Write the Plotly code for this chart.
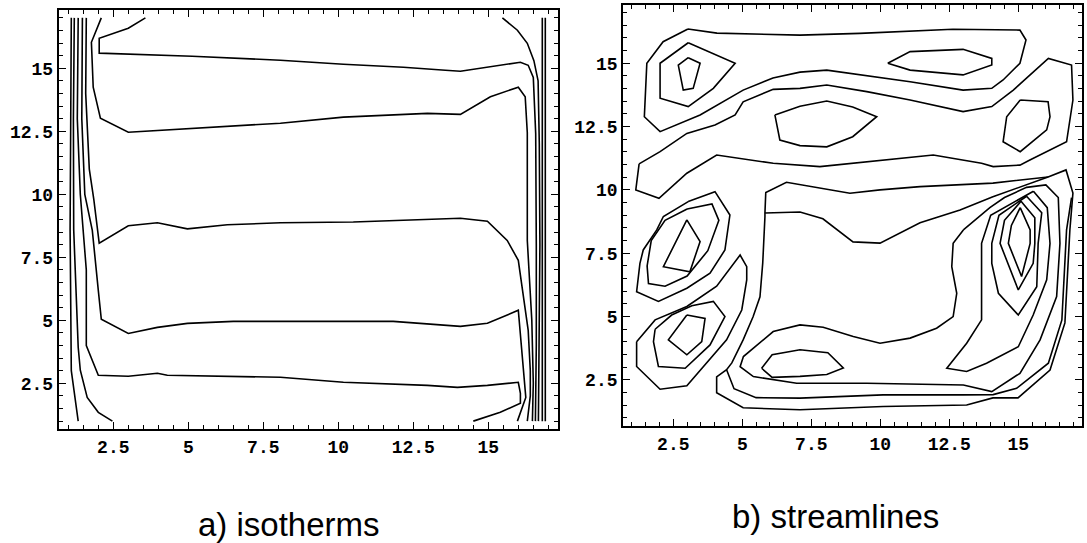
import plotly.graph_objects as go

# ---------------- a) isotherms : contour polylines (x, y in grid units) ----------------
iso_1_x = [1.10, 1.07, 1.06, 1.10, 1.33]
iso_1_y = [17, 13, 8.6, 3.0, 1]
iso_2_x = [1.20, 1.17, 1.18, 1.33, 1.40, 1.63, 2.0, 2.47]
iso_2_y = [17, 13, 8.6, 3.93, 3.02, 1.94, 1.35, 1]
iso_3_x = [1.33, 1.30, 1.40, 1.60, 1.60, 2.0, 3.0, 3.97, 4.3, 8.07, 10.17, 12.97, 13.97, 14.97, 16.0, 16.07, 16.07, 15.4, 14.5]
iso_3_y = [17, 13, 10, 7.0, 4.0, 2.82, 2.78, 2.9, 2.82, 2.74, 2.54, 2.42, 2.34, 2.42, 2.54, 2.1, 1.71, 1.35, 1]
iso_4_x = [1.47, 1.45, 1.55, 1.80, 2.0, 2.1, 3.0, 3.97, 4.97, 6.5, 8.07, 10.73, 11.83, 14.07, 14.97, 16.0, 16.1, 16.2, 16.25, 15.97]
iso_4_y = [17, 13, 10, 8.57, 6.19, 5.04, 4.48, 4.72, 4.88, 4.96, 4.96, 4.96, 4.96, 4.76, 4.88, 5.4, 4.0, 2.5, 1.94, 1]
iso_5_x = [1.60, 1.58, 1.70, 1.85, 2.03, 3.0, 3.97, 4.97, 6.3, 8.07, 10.5, 13.5, 14.07, 14.97, 15.63, 16.0, 16.33, 16.4, 16.4, 16.3]
iso_5_y = [17, 14, 11, 9.8, 8.06, 8.75, 8.87, 8.63, 8.79, 8.87, 8.9, 9.05, 9.05, 8.93, 8.17, 7.38, 4.6, 3.0, 2.0, 1]
iso_6_x = [2.1, 1.77, 1.83, 2.07, 3.0, 8.07, 10.17, 12.97, 14.07, 15.07, 16.0, 16.23, 16.3, 16.3, 16.45, 16.5, 16.47]
iso_6_y = [17, 16.03, 14.25, 13.02, 12.46, 12.82, 13.06, 13.21, 13.17, 13.87, 14.25, 13.87, 12.44, 8.17, 5.0, 2.5, 1]
iso_7_x = [3.57, 3.0, 2.03, 2.03, 5.13, 8.07, 10.17, 12.17, 13.57, 14.07, 16.07, 16.33, 16.5, 16.58, 16.6, 16.6, 16.57]
iso_7_y = [17, 16.59, 16.19, 15.6, 15.48, 15.32, 15.16, 15.04, 14.92, 14.88, 15.24, 15.12, 14.64, 12.4, 8.0, 4.0, 1]
iso_8_x = [15.47, 15.97, 16.3, 16.52, 16.66, 16.7, 16.72, 16.7, 16.67]
iso_8_y = [17, 16.51, 15.99, 15.3, 14.5, 12, 8, 4, 1]
iso_9_x = [16.8, 16.79, 16.8, 16.8]
iso_9_y = [17, 12, 5, 1]
iso_10_x = [16.9, 16.9, 16.9]
iso_10_y = [17, 9, 1]

# ---------------- b) streamlines : contour polylines ----------------
sl_top_x = [3.03, 4.08, 7.09, 9.26, 12.63, 15.06, 15.28, 15.06, 14.45, 14.04, 13.0, 11.08, 8.06, 7.09, 6.11, 5.03, 3.47, 2.02, 1.45, 1.54, 2.13, 3.03]
sl_top_y = [16.35, 16.19, 16.11, 16.18, 16.34, 16.31, 15.92, 15.0, 14.34, 14.01, 13.94, 14.27, 14.73, 14.65, 14.42, 13.94, 12.96, 12.3, 12.89, 15.0, 15.85, 16.35]
sl_tl2_x = [3.04, 4.74, 3.95, 3.04, 2.02, 2.02, 3.04]
sl_tl2_y = [15.81, 15.0, 14.01, 13.29, 13.62, 15.0, 15.81]
sl_tl3_x = [3.04, 3.47, 3.22, 2.86, 2.68, 3.04]
sl_tl3_y = [15.22, 15.0, 14.01, 13.94, 14.93, 15.22]
sl_tr_x = [10.27, 11.08, 13.0, 14.04, 14.04, 13.0, 11.08, 10.27]
sl_tr_y = [15.0, 15.46, 15.55, 15.19, 14.93, 14.54, 14.73, 15.0]
sl_mid_x = [6.18, 7.09, 8.06, 9.0, 9.87, 9.0, 8.06, 7.09, 6.36, 6.18]
sl_mid_y = [12.96, 13.3, 13.51, 13.27, 12.89, 12.1, 11.7, 11.75, 11.97, 12.96]
sl_rm_x = [15.07, 16.08, 16.15, 16.03, 15.07, 14.45, 14.58, 15.07]
sl_rm_y = [13.55, 13.48, 12.89, 12.37, 11.51, 11.9, 12.89, 13.55]
sl_band_x = [1.26, 2.02, 2.99, 4.01, 4.74, 5.03, 6.12, 7.09, 8.06, 9.51, 11.08, 13.0, 14.04, 14.82, 16.09, 16.93, 16.98, 16.75, 15.42, 15.06, 14.09, 13.67, 11.92, 8.9, 7.81, 6.12, 4.07, 2.99, 1.98, 1.14, 1.26]
sl_band_y = [11.03, 11.51, 12.23, 12.56, 12.96, 13.48, 13.97, 14.01, 14.14, 13.88, 13.55, 13.09, 13.29, 13.94, 15.19, 14.93, 13.55, 11.9, 11.18, 10.98, 10.92, 11.05, 11.38, 11.05, 10.92, 11.05, 11.38, 10.66, 9.67, 10.0, 11.03]

sl_lm1_x = [2.99, 3.47, 3.1, 2.14, 2.99]
sl_lm1_y = [8.82, 7.96, 6.77, 6.97, 8.82]
sl_lm2_x = [3.0, 3.9, 4.15, 3.75, 3.0, 2.2, 1.6, 1.55, 1.7, 2.2, 3.0]
sl_lm2_y = [9.25, 9.45, 8.8, 7.6, 6.6, 6.2, 6.3, 7.0, 8.0, 8.8, 9.25]
sl_lm3_x = [3.04, 4.01, 4.55, 4.37, 3.83, 2.99, 1.96, 1.17, 1.29, 1.41, 1.9, 2.14, 3.04]
sl_lm3_y = [9.54, 9.93, 9.01, 7.63, 6.71, 6.12, 5.6, 5.98, 7.1, 7.63, 8.42, 8.95, 9.54]
sl_ll1_x = [2.99, 3.65, 3.53, 2.99, 2.32, 2.99]
sl_ll1_y = [5.06, 4.93, 4.01, 3.49, 4.08, 5.06]
sl_ll2_x = [1.84, 2.44, 3.17, 3.95, 4.37, 3.83, 2.93, 1.96, 1.78, 1.84]
sl_ll2_y = [4.5, 5.06, 5.43, 5.6, 5.0, 3.88, 2.96, 3.03, 4.01, 4.5]
sl_ll3_x = [1.17, 1.84, 2.99, 4.07, 4.92, 5.16, 5.16, 4.98, 4.43, 2.99, 2.02, 1.17, 1.17]
sl_ll3_y = [4.01, 4.87, 5.4, 6.2, 7.43, 6.97, 6.45, 5.26, 4.08, 2.27, 2.13, 3.03, 4.01]

sl_bc1_x = [5.7, 6.08, 7.09, 8.1, 8.66, 8.06, 7.09, 6.08, 5.7]
sl_bc1_y = [2.96, 3.49, 3.69, 3.57, 2.97, 2.71, 2.64, 2.6, 2.96]

sl_rv1_x = [15.07, 15.43, 15.43, 15.12, 14.64, 14.75, 15.07]
sl_rv1_y = [9.3, 8.42, 7.89, 6.58, 7.89, 8.6, 9.3]
sl_rv2_x = [15.1, 15.6, 15.6, 15.54, 15.0, 14.34, 14.5, 15.1]
sl_rv2_y = [9.55, 8.9, 7.89, 7.1, 6.05, 7.89, 8.8, 9.55]
sl_rv3_x = [15.3, 15.85, 15.72, 15.67, 15.0, 14.28, 14.04, 14.04, 14.3, 15.3]
sl_rv3_y = [9.75, 9.1, 7.89, 6.18, 5.06, 5.92, 7.1, 7.89, 9.0, 9.75]
sl_rv4_x = [15.55, 16.05, 16.15, 16.03, 15.54, 15.0, 13.85, 13.13, 12.41, 13.13, 13.67, 13.67, 14.0, 15.55]
sl_rv4_y = [9.95, 9.3, 7.89, 6.45, 5.06, 3.81, 3.16, 2.83, 2.96, 3.95, 4.87, 7.89, 9.0, 9.95]
sl_rv5_x = [13.01, 12.64, 12.59, 12.77, 12.64, 12.04, 11.08, 9.99, 9.02, 7.93, 7.09, 6.12, 5.04, 4.92, 5.4, 6.97, 9.51, 11.32, 13.01, 14.04, 15.06, 15.79, 16.39, 16.51, 16.45, 16.0, 15.3, 14.5, 13.97, 13.01]
sl_rv5_y = [8.42, 7.89, 6.97, 5.92, 5.0, 4.54, 4.15, 3.95, 4.21, 4.58, 4.67, 4.41, 3.42, 3.02, 2.63, 2.37, 2.37, 2.34, 2.3, 2.04, 2.76, 4.08, 5.79, 7.89, 9.7, 10.2, 10.1, 9.7, 9.3, 8.42]
sl_rv6_x = [16.93, 16.75, 16.58, 16.09, 14.94, 14.09, 13.0, 10.1, 7.09, 5.5, 4.7, 4.43]
sl_rv6_y = [9.7, 8.42, 4.87, 3.16, 2.17, 1.92, 1.91, 1.91, 1.78, 1.8, 2.15, 2.9]
sl_outer_x = [5.82, 7.09, 7.92, 9.01, 9.99, 11.44, 12.89, 14.08, 16.08, 16.73, 16.98, 16.87, 16.69, 16.15, 14.99, 14.08, 13.13, 10.1, 7.09, 5.03, 4.07, 4.07, 4.43, 4.62, 5.03, 5.39, 5.64, 5.74, 5.82, 5.82]
sl_outer_y = [9.09, 9.13, 8.86, 7.95, 7.9, 8.7, 9.21, 9.73, 10.51, 10.79, 9.88, 8.42, 4.75, 2.89, 1.79, 1.79, 1.51, 1.45, 1.32, 1.4, 1.99, 2.62, 2.9, 3.17, 4.08, 4.99, 5.78, 7.12, 8.94, 9.09]
sl_upper_x = [5.82, 5.85, 6.6, 8.9, 9.99, 11.44, 14.08, 16.08]
sl_upper_y = [9.09, 9.9, 10.3, 9.87, 10.0, 10.13, 10.27, 10.51]

iso_lines = [
    (iso_1_x, iso_1_y), (iso_2_x, iso_2_y), (iso_3_x, iso_3_y), (iso_4_x, iso_4_y),
    (iso_5_x, iso_5_y), (iso_6_x, iso_6_y), (iso_7_x, iso_7_y), (iso_8_x, iso_8_y),
    (iso_9_x, iso_9_y), (iso_10_x, iso_10_y),
]
stream_lines = [
    (sl_top_x, sl_top_y), (sl_tl2_x, sl_tl2_y), (sl_tl3_x, sl_tl3_y), (sl_tr_x, sl_tr_y),
    (sl_mid_x, sl_mid_y), (sl_rm_x, sl_rm_y), (sl_band_x, sl_band_y),
    (sl_lm1_x, sl_lm1_y), (sl_lm2_x, sl_lm2_y), (sl_lm3_x, sl_lm3_y),
    (sl_ll1_x, sl_ll1_y), (sl_ll2_x, sl_ll2_y), (sl_ll3_x, sl_ll3_y),
    (sl_bc1_x, sl_bc1_y),
    (sl_rv1_x, sl_rv1_y), (sl_rv2_x, sl_rv2_y), (sl_rv3_x, sl_rv3_y), (sl_rv4_x, sl_rv4_y),
    (sl_rv5_x, sl_rv5_y), (sl_rv6_x, sl_rv6_y), (sl_outer_x, sl_outer_y), (sl_upper_x, sl_upper_y),
]

tick_vals = [2.5, 5, 7.5, 10, 12.5, 15]
tick_text = ["2.5", "5", "7.5", "10", "12.5", "15"]
frame_range = [0.68, 17.32]

fig = go.Figure()
line_style = dict(color="black", width=1.6)
for xs, ys in iso_lines:
    fig.add_trace(go.Scatter(x=xs, y=ys, mode="lines", line=line_style,
                             xaxis="x", yaxis="y", hoverinfo="skip", showlegend=False))
for xs, ys in stream_lines:
    fig.add_trace(go.Scatter(x=xs, y=ys, mode="lines", line=line_style,
                             xaxis="x2", yaxis="y2", hoverinfo="skip", showlegend=False))

W, H = 1087, 543

def frame_axis(domain, anchor):
    return dict(
        domain=domain, anchor=anchor, range=frame_range, autorange=False,
        showgrid=False, zeroline=False, showline=True, linecolor="black", linewidth=2,
        mirror="ticks", ticks="inside", ticklen=7, tickwidth=1.2, tickcolor="black",
        tickvals=tick_vals, ticktext=tick_text,
        tickfont=dict(family="Liberation Mono", size=18, color="black", weight="bold"),
        minor=dict(dtick=0.5, tick0=0, ticks="inside", ticklen=4, tickwidth=1, tickcolor="black"),
    )

fig.update_layout(
    width=W, height=H, autosize=False,
    margin=dict(l=0, r=0, t=0, b=0),
    paper_bgcolor="white", plot_bgcolor="white",
    xaxis=frame_axis([58.7 / W, 557.9 / W], "y"),
    yaxis=frame_axis([1 - 429.2 / H, 1 - 9.8 / H], "x"),
    xaxis2=frame_axis([623.1 / W, 1082.3 / W], "y2"),
    yaxis2=frame_axis([1 - 426.0 / H, 1 - 4.5 / H], "x2"),
    annotations=[
        dict(text="a) isotherms", x=289 / W, y=1 - 524 / H, xref="paper", yref="paper",
             showarrow=False, xanchor="center", yanchor="middle",
             font=dict(family="Liberation Sans", size=33, color="black")),
        dict(text="b) streamlines", x=835 / W, y=1 - 516 / H, xref="paper", yref="paper",
             showarrow=False, xanchor="center", yanchor="middle",
             font=dict(family="Liberation Sans", size=33, color="black")),
    ],
)

fig.write_html("out.html")
